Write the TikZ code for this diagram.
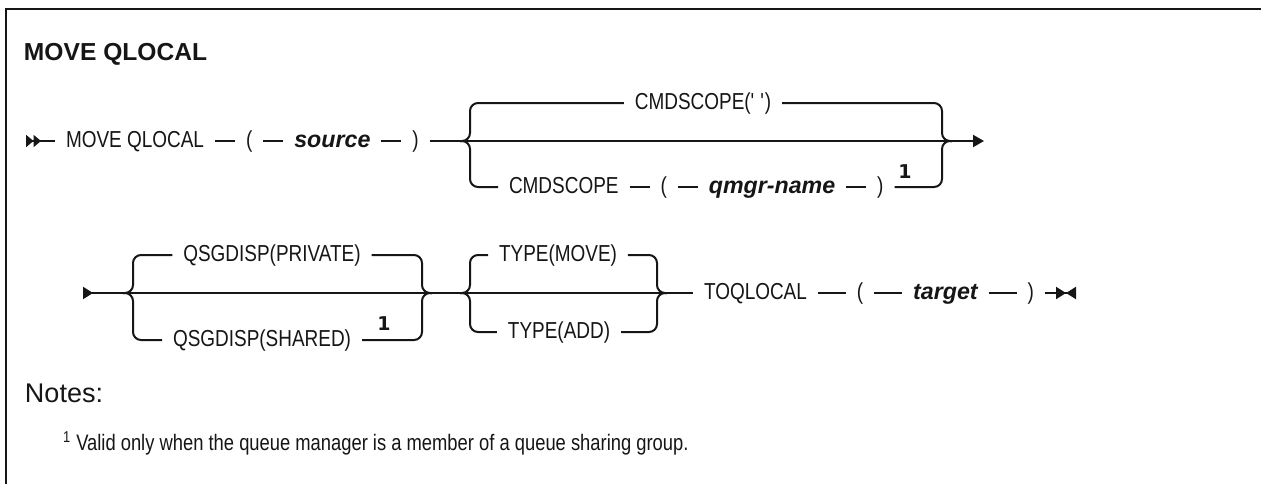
\documentclass[tikz,border=0pt]{standalone}
\usepackage{fontspec}
\setmainfont{Liberation Sans}
\newfontfamily\railfamily[FakeStretch=0.82]{Liberation Sans}
\newfontfamily\numfamily{DejaVu Sans}
\usetikzlibrary{arrows.meta,positioning}
\definecolor{ink}{HTML}{161616}
\newcommand{\railfont}{\railfamily\fontsize{11.56}{14}\selectfont}
\newcommand{\varfont}{\fontsize{11.6}{14}\selectfont\bfseries\itshape}
\tikzset{
  kw/.style={
    inner xsep=5pt,
    inner ysep=0pt,
    text height=8pt,
    text depth=2pt,
    font=\railfont,
    text=ink
  },
  var/.style={kw,font=\varfont},
  notenum/.style={inner sep=0pt,font=\numfamily\fontsize{9.5}{11}\selectfont\bfseries,text=ink},
  fork/.style={rounded corners=4pt},
  headline/.style={anchor=west,inner sep=0pt,text=ink}
}

\begin{document}
\begin{tikzpicture}[x=0.5pt,y=-0.5pt,node distance=10pt,line width=1pt,draw=ink]
\clip (0,0) rectangle (1261,483);
\fill[white] (0,0) rectangle (1261,483);
\draw[line width=1.4pt] (6,500) -- (6,9) -- (1270,9);
\node[headline,font=\bfseries\fontsize{12.3}{14}\selectfont] (title) at (23,54) {MOVE QLOCAL};
\coordinate (start1) at (26,141);
\node[kw,anchor=west] (movecmd) at (55,141) {MOVE QLOCAL};
\node[kw,right=of movecmd] (lpar1) {(};
\node[var,right=of lpar1] (source) {source};
\node[kw,right=of source] (rpar1) {)};
\coordinate (fork1l) at (470,141);
\coordinate (fork1r) at (942,141);
\coordinate (end1) at (984,141);
\node[kw] (cmdblank) at (703,103) {CMDSCOPE(\textquotesingle\ \textquotesingle)};
\node[kw,anchor=west] (cmdscope) at (498,187) {CMDSCOPE};
\node[kw,right=of cmdscope] (lpar2) {(};
\node[var,right=of lpar2] (qmgr) {qmgr-name};
\node[kw,right=of qmgr] (rpar2) {)};
\node[notenum] (fn1) at (905,172) {1};
\draw[{Triangle[reversed,length=3.75pt,width=6pt]Triangle[reversed,length=3.75pt,width=6pt]}-] (start1) -- (movecmd);
\draw (movecmd) -- (lpar1);
\draw (lpar1) -- (source);
\draw (source) -- (rpar1);
\draw[-{Triangle[length=5.5pt,width=6pt]}] (rpar1) -- (end1);
\draw[fork] (cmdblank.west) -| (fork1l) -- ++(-10,0);
\draw[fork] (cmdscope.west) -| (fork1l) -- ++(-10,0);
\draw[fork] (cmdblank.east) -| (fork1r) -- ++(10,0);
\draw[fork] (rpar2.east) -| (fork1r) -- ++(10,0);
\draw (cmdscope) -- (lpar2);
\draw (lpar2) -- (qmgr);
\draw (qmgr) -- (rpar2);
\coordinate (start2) at (83,293);
\coordinate (fork2l) at (133,293);
\coordinate (fork2r) at (422,293);
\coordinate (fork3l) at (470,293);
\coordinate (fork3r) at (657,293);
\coordinate (end2) at (1076,293);
\node[kw] (qsgpriv) at (272,255) {QSGDISP(PRIVATE)};
\node[kw,anchor=west] (qsgshr) at (162,340) {QSGDISP(SHARED)};
\node[notenum] (fn2) at (384,324) {1};
\node[kw] (typemove) at (558,255) {TYPE(MOVE)};
\node[kw] (typeadd) at (559,332) {TYPE(ADD)};
\begin{scope}[node distance=14pt]
\node[kw,anchor=west] (toqlocal) at (693,293) {TOQLOCAL};
\node[kw,right=of toqlocal] (lpar3) {(};
\node[var,right=of lpar3] (target) {target};
\node[kw,right=of target] (rpar3) {)};
\end{scope}
\draw[{Triangle[reversed,length=5pt,width=6pt]}-] (start2) -- (toqlocal);
\draw[fork] (qsgpriv.west) -| (fork2l) -- ++(-10,0);
\draw[fork] (qsgshr.west) -| (fork2l) -- ++(-10,0);
\draw[fork] (qsgpriv.east) -| (fork2r) -- ++(10,0);
\draw[fork] (qsgshr.east) -| (fork2r) -- ++(10,0);
\draw[fork] (typemove.west) -| (fork3l) -- ++(-10,0);
\draw[fork] (typeadd.west) -| (fork3l) -- ++(-10,0);
\draw[fork] (typemove.east) -| (fork3r) -- ++(10,0);
\draw[fork] (typeadd.east) -| (fork3r) -- ++(10,0);
\draw (toqlocal) -- (lpar3);
\draw (lpar3) -- (target);
\draw (target) -- (rpar3);
\draw[-{Triangle[length=5pt,width=6pt]Triangle[reversed,length=5pt,width=6pt]}] (rpar3) -- (end2);
\node[headline,font=\fontsize{13.5}{15}\selectfont] (notes) at (24,393) {Notes:};
\node[headline,font=\railfamily\fontsize{11.2}{14}\selectfont] (note1) at (62,443) {\textsuperscript{1} Valid only when the queue manager is a member of a queue sharing group.};
\end{tikzpicture}
\end{document}
